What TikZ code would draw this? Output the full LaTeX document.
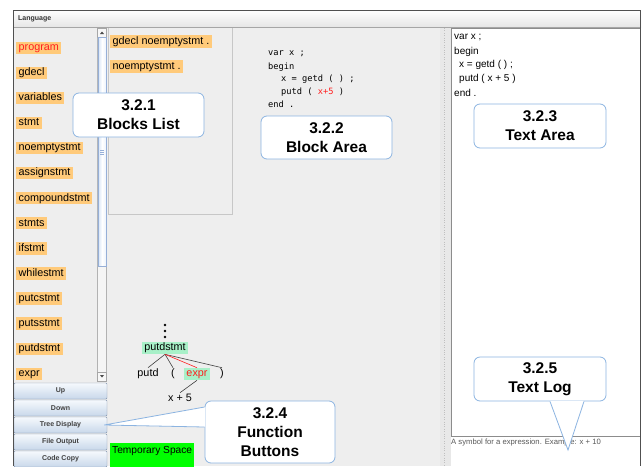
\documentclass[tikz,border=0pt]{standalone}
\usepackage{fontspec}
\setmainfont{Liberation Sans}
\newfontfamily\codefont{DejaVu Sans Mono}
\usetikzlibrary{calc}
\definecolor{panelbg}{RGB}{238,238,238}
\definecolor{blockorange}{RGB}{255,202,122}
\definecolor{treegreen}{RGB}{168,240,200}
\definecolor{calloutblue}{RGB}{140,180,225}
\definecolor{btnborder}{RGB}{128,146,172}
\definecolor{btntop}{RGB}{246,249,253}
\definecolor{btnbot}{RGB}{200,216,234}
\definecolor{framegray}{RGB}{80,80,80}
\definecolor{tempgreen}{RGB}{0,255,0}
\definecolor{redtxt}{RGB}{255,30,30}
\definecolor{thumbborder}{RGB}{150,175,215}
\definecolor{thumbleft}{RGB}{210,225,245}
\begin{document}
\begin{tikzpicture}[x=1pt,y=-1pt,
 block/.style={fill=blockorange, inner xsep=2.5pt, inner ysep=1pt, text height=7.8pt, text depth=2.4pt, font=\fontsize{10.8}{12}\selectfont, anchor=west},
 callout/.style={draw=calloutblue, line width=0.8pt, fill=white, rounded corners=6pt, align=center, font=\fontsize{15.5}{19}\selectfont\bfseries},
 btn/.style={draw=btnborder, top color=btntop, bottom color=btnbot, minimum width=93pt, minimum height=16pt, inner sep=0pt, font=\fontsize{7}{8}\selectfont\bfseries, text=black!75, rounded corners=1pt},
 treenode/.style={fill=treegreen, inner xsep=2pt, inner ysep=1pt, text height=7.8pt, text depth=2.4pt, font=\fontsize{10.8}{12}\selectfont},
 treetxt/.style={inner sep=1pt, text height=7.8pt, text depth=2.4pt, font=\fontsize{10.8}{12}\selectfont},
 code/.style={anchor=west, inner sep=0pt, font=\codefont\fontsize{8.7}{10}\selectfont},
 txt/.style={anchor=west, inner sep=0pt, font=\fontsize{10}{12}\selectfont},
 ]
\useasboundingbox (0,0) rectangle (642,466);
\fill[white] (0,0) rectangle (642,466);
% window body
\fill[panelbg] (13,27) rectangle (641,466);
\shade[top color=white, bottom color=black!10] (13,10) rectangle (641,27);
\draw[black!35] (13,27.5) -- (641,27.5);
\node[anchor=west, font=\fontsize{7}{8}\selectfont\bfseries, text=black!80, inner sep=0pt] (title) at (18,19) {Language};

% scrollbar
\fill[black!4] (97,28) rectangle (107,381);
\draw[black!30] (97.5,28) -- (97.5,381) (106.5,28) -- (106.5,381);
\draw[black!35, fill=black!3] (97.5,28.5) rectangle (106.5,37);
\fill[black!70] (100,34) -- (104,34) -- (102,31.5) -- cycle;
\path[draw=thumbborder, left color=thumbleft, right color=thumbleft!40, middle color=white] (97.8,37.5) rectangle (106.2,266);
\draw[thumbborder] (100,150.5) -- (104,150.5) (100,152.5) -- (104,152.5) (100,154.5) -- (104,154.5);
\draw[black!35, fill=black!3] (97.5,372) rectangle (106.5,381);
\fill[black!70] (100,375) -- (104,375) -- (102,377.5) -- cycle;

% blocks list
\node[block, text=redtxt] (b0) at (16,48) {program};
\foreach \t [count=\i] in {gdecl,variables,stmt,noemptystmt,assignstmt,compoundstmt,stmts,ifstmt,whilestmt,putcstmt,putsstmt,putdstmt,expr}
  \node[block] (b\i) at (16,{48+25.05*\i}) {\t};

% function buttons
\node[btn] (up) at (60.5,391) {Up};
\node[btn] (down) at (60.5,408) {Down};
\node[btn] (tree) at (60.5,425) {Tree Display};
\node[btn] (fout) at (60.5,442) {File Output};
\node[btn] (ccopy) at (60.5,459) {Code Copy};

% block area sub-panel
\draw[black!22, line width=1.2pt] (108.6,28) -- (108.6,214.6) -- (232.6,214.6) -- (232.6,28);
\node[block] (g1) at (110,41.5) {gdecl noemptystmt .};
\node[block] (g2) at (110,66.5) {noemptystmt .};

% block area code
\node[code] (l1) at (268,54) {var x ;};
\node[code] (l2) at (268,67) {begin};
\node[code] (l3) at (281,79) {x = getd ( ) ;};
\node[code] (l4) at (281,92) {putd ( \textcolor{redtxt}{x+5} )};
\node[code] (l5) at (268,104) {end .};

% divider and text area
\fill[black!9] (440,28) rectangle (451,466);
\draw[black!25, dotted] (444.5,28) -- (444.5,466);
\draw[black!45, fill=white] (451.5,28.5) rectangle (640.5,436);
\fill[white] (451,436.5) rectangle (640,466);
\node[txt] (t1) at (454,37) {var x ;};
\node[txt] (t2) at (454,52) {begin};
\node[txt] (t3) at (459,65) {x = getd ( ) ;};
\node[txt] (t4) at (459,79) {putd ( x + 5 )};
\node[txt] (t5) at (454,93) {end .};
\node[anchor=west, inner sep=0pt, font=\fontsize{7.7}{9}\selectfont, text=black!65] (log) at (451,443) {A symbol for a expression. Example: x + 10};

% tree display
\foreach \yy in {325,331,337} \fill (165,\yy) circle (1.3pt);
\node[treenode] (pd) at (165,348) {putdstmt};
\node[treetxt] (tputd) at (148,374) {putd};
\node[treetxt] (tlp) at (173,374) {(};
\node[treenode, text=redtxt] (texpr) at (197,374) {expr};
\node[treetxt] (trp) at (222,374) {)};
\node[treetxt] (tx5) at (180,399) {x + 5};
\draw[black!75, line width=0.6pt] (pd.south) -- (tputd.north) (pd.south) -- (tlp.north) (pd.south) -- (trp.north);
\draw[redtxt, line width=0.6pt] (pd.south) -- (texpr.north);
\draw[black!75, line width=0.6pt] (texpr.south) -- (tx5.north);

% temporary space
\node[fill=tempgreen, anchor=north west, inner xsep=2pt, inner ysep=2pt, text height=7.8pt, text depth=16pt, font=\fontsize{10.2}{12}\selectfont] (temp) at (110,443) {Temporary Space};

% window frame
\draw[framegray, line width=0.8pt] (13.4,466) -- (13.4,10.4) -- (640.6,10.4) -- (640.6,466);

% callouts
\node[callout, minimum width=131pt, minimum height=44pt] (c1) at (138.5,115) {3.2.1\\Blocks List};
\node[callout, minimum width=131pt, minimum height=43pt] (c2) at (326.5,137.5) {3.2.2\\Block Area};
\node[callout, minimum width=132pt, minimum height=44pt] (c3) at (540,126) {3.2.3\\Text Area};
\node[callout, minimum width=132pt, minimum height=44pt] (c5) at (540,379) {3.2.5\\Text Log};
\node[callout, minimum width=130pt, minimum height=62pt] (c4) at (270,432) {3.2.4\\Function\\Buttons};

% callout pointers
\coordinate (tip4) at ($(tree.east)+(-3,0)$);
\fill[white] (tip4) -- ($(c4.west)+(0.6,-25)$) -- ($(c4.west)+(0.6,-5)$) -- cycle;
\draw[calloutblue, line width=0.8pt] ($(c4.west)+(0,-25)$) -- (tip4) -- ($(c4.west)+(0,-5)$);
\coordinate (tip5) at (568,450);
\fill[white] ($(c5.south)+(10,-0.6)$) -- (tip5) -- ($(c5.south)+(44,-0.6)$) -- cycle;
\draw[calloutblue, line width=0.8pt] ($(c5.south)+(10,0)$) -- (tip5) -- ($(c5.south)+(44,0)$);
\end{tikzpicture}
\end{document}
